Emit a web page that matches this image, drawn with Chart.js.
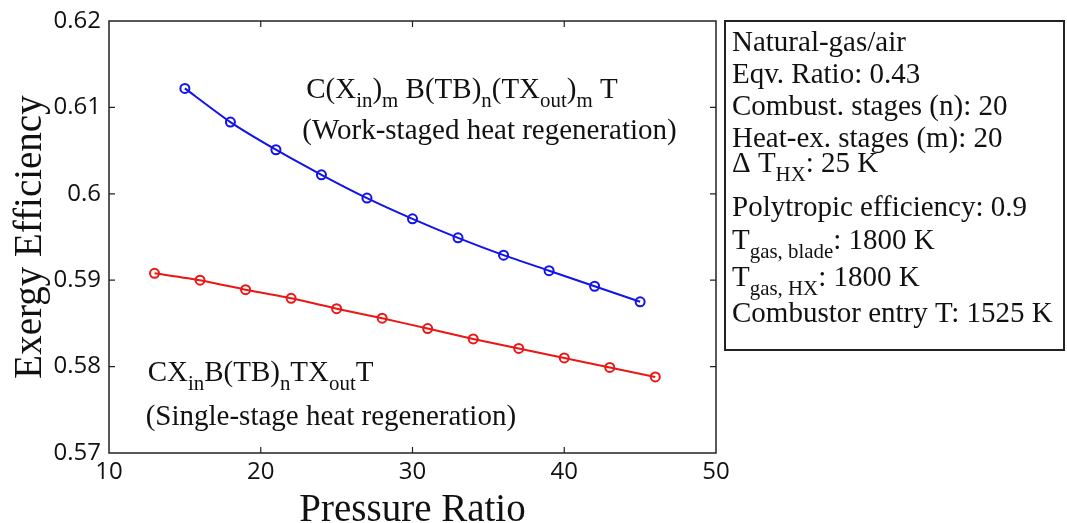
<!DOCTYPE html>
<html>
<head>
<meta charset="utf-8">
<title>Exergy Efficiency vs Pressure Ratio</title>
<script src="https://cdn.jsdelivr.net/npm/chart.js@4.4.0/dist/chart.umd.min.js"></script>
<style>
  html, body { margin: 0; padding: 0; background: #fff; }
  #my-chart { display: block; }
</style>
</head>
<body>
<canvas id="my-chart" width="1067" height="523"></canvas>
<script>
'use strict';

// ******** DATA **************
let workStagedRatio = [15, 18, 21, 24, 27, 30, 33, 36, 39, 42, 45];
let workStagedEff = [0.6122, 0.6083, 0.6051, 0.6022, 0.5995, 0.5971, 0.5949, 0.5929, 0.5911, 0.5893, 0.5875];

let singleStageRatio = [13, 16, 19, 22, 25, 28, 31, 34, 37, 40, 43, 46];
let singleStageEff = [0.5908, 0.5900, 0.5889, 0.5879, 0.5867, 0.5856, 0.5844, 0.5832, 0.5821, 0.5810, 0.5799, 0.5788];

let xTicks = [10, 20, 30, 40, 50];
let yTicks = [0.57, 0.58, 0.59, 0.6, 0.61, 0.62];

// text lines for the parameter box, each a list of [text, isSubscript]
let boxLines = [
  [['Natural-gas/air', false]],
  [['Eqv. Ratio: 0.43', false]],
  [['Combust. stages (n): 20', false]],
  [['Heat-ex. stages (m): 20', false]],
  [['\u0394 T', false], ['HX', true], [': 25 K', false]],
  [['Polytropic efficiency: 0.9', false]],
  [['T', false], ['gas, blade', true], [': 1800 K', false]],
  [['T', false], ['gas, HX', true], [': 1800 K', false]],
  [['Combustor entry T: 1525 K', false]]
];

let workStagedLabel = [
  [['C(X', false], ['in', true], [')', false], ['m', true], [' B(TB)', false], ['n', true],
   ['(TX', false], ['out', true], [')', false], ['m', true], [' T', false]],
  [['(Work-staged heat regeneration)', false]]
];

let singleStageLabel = [
  [['CX', false], ['in', true], ['B(TB)', false], ['n', true], ['TX', false], ['out', true], ['T', false]],
  [['(Single-stage heat regeneration)', false]]
];

function toPoints(xs, ys) {
  let pts = [];
  for (let i = 0; i < xs.length; i++) {
    pts.push({ x: xs[i], y: ys[i] });
  }
  return pts;
}

// ******** HELPERS **************
const SERIF = '"Liberation Serif", "Times New Roman", serif';

// draws one line made of normal and subscript pieces
function drawRichLine(ctx, x, y, parts, size) {
  ctx.textAlign = 'left';
  ctx.textBaseline = 'alphabetic';
  let cx = x;
  for (let i = 0; i < parts.length; i++) {
    let txt = parts[i][0];
    let isSub = parts[i][1];
    let s = isSub ? size * 0.72 : size;
    ctx.font = s + 'px ' + SERIF;
    ctx.fillText(txt, cx, isSub ? y + size * 0.3 : y);
    cx += ctx.measureText(txt).width;
  }
}

// ******** PLUGINS **************
let framePlugin = {
  id: 'frame',
  beforeDatasetsDraw(chart) {
    let ctx = chart.ctx;
    let a = chart.chartArea;
    let xs = chart.scales.x;
    let ys = chart.scales.y;
    ctx.save();
    ctx.strokeStyle = '#222';
    ctx.lineWidth = 1.5;
    ctx.strokeRect(a.left, a.top, a.right - a.left, a.bottom - a.top);

    // inward tick marks on all four sides
    ctx.lineWidth = 1.2;
    ctx.beginPath();
    xTicks.forEach(function (v) {
      let px = xs.getPixelForValue(v);
      if (px <= a.left + 1 || px >= a.right - 1) return;
      ctx.moveTo(px, a.bottom); ctx.lineTo(px, a.bottom - 6);
      ctx.moveTo(px, a.top); ctx.lineTo(px, a.top + 6);
    });
    yTicks.forEach(function (v) {
      let py = ys.getPixelForValue(v);
      if (py <= a.top + 1 || py >= a.bottom - 1) return;
      ctx.moveTo(a.left, py); ctx.lineTo(a.left + 6, py);
      ctx.moveTo(a.right, py); ctx.lineTo(a.right - 6, py);
    });
    ctx.stroke();
    ctx.restore();
  },
  afterDraw(chart) {
    let ctx = chart.ctx;
    let xs = chart.scales.x;
    let ys = chart.scales.y;
    ctx.save();
    ctx.fillStyle = '#111';

    // curve labels anchored in data space
    let ux = xs.getPixelForValue(23.0);
    let uy = ys.getPixelForValue(0.6111);
    drawRichLine(ctx, ux, uy, workStagedLabel[0], 29);
    drawRichLine(ctx, ux - 4, uy + 41, workStagedLabel[1], 29);

    let lx = xs.getPixelForValue(12.55);
    let ly = ys.getPixelForValue(0.5783);
    drawRichLine(ctx, lx, ly, singleStageLabel[0], 29);
    drawRichLine(ctx, lx - 2, ly + 44, singleStageLabel[1], 29);

    // parameter box to the right of the plot
    ctx.strokeStyle = '#222';
    ctx.lineWidth = 2;
    ctx.strokeRect(725, 21, 339, 329);
    let baselines = [51, 83, 115, 147, 172, 216, 249, 286, 322];
    for (let i = 0; i < boxLines.length; i++) {
      drawRichLine(ctx, 732, baselines[i], boxLines[i], 29);
    }
    ctx.restore();
  }
};

// ************** CHART ************************
let canvasElem = document.getElementById('my-chart');

let tickFont = { family: '"Open Sans", "DejaVu Sans", sans-serif', size: 24 };

let config = {
  type: 'line',
  data: {
    datasets: [{
      label: 'Work-staged heat regeneration',
      data: toPoints(workStagedRatio, workStagedEff),
      borderColor: 'rgb(18, 18, 235)',
      backgroundColor: 'rgba(0, 0, 0, 0)',
      borderWidth: 2,
      pointRadius: 4.5,
      pointBorderWidth: 2,
      pointBorderColor: 'rgb(18, 18, 235)',
      pointBackgroundColor: 'rgba(0, 0, 0, 0)',
      tension: 0.2
    },
    {
      label: 'Single-stage heat regeneration',
      data: toPoints(singleStageRatio, singleStageEff),
      borderColor: 'rgb(235, 22, 22)',
      backgroundColor: 'rgba(0, 0, 0, 0)',
      borderWidth: 2,
      pointRadius: 4.5,
      pointBorderWidth: 2,
      pointBorderColor: 'rgb(235, 22, 22)',
      pointBackgroundColor: 'rgba(0, 0, 0, 0)',
      tension: 0.2
    }]
  },
  options: {
    responsive: false,
    animation: false,
    layout: {
      padding: { top: 21, right: 351, left: 0, bottom: 0 }
    },
    plugins: {
      legend: { display: false },
      tooltip: { enabled: false }
    },
    scales: {
      x: {
        type: 'linear',
        min: 10,
        max: 50,
        grid: { display: false },
        border: { display: false },
        afterBuildTicks: function (scale) {
          scale.ticks = xTicks.map(function (v) { return { value: v }; });
        },
        afterFit: function (scale) { scale.height = 70; },
        ticks: {
          color: '#111',
          font: tickFont,
          padding: -3,
          maxRotation: 0,
          callback: function (v) { return String(v); }
        },
        title: {
          display: true,
          text: 'Pressure Ratio',
          color: '#111',
          font: { family: SERIF, size: 39, lineHeight: 0.62 },
          padding: 0
        }
      },
      y: {
        type: 'linear',
        min: 0.57,
        max: 0.62,
        grid: { display: false },
        border: { display: false },
        afterBuildTicks: function (scale) {
          scale.ticks = yTicks.map(function (v) { return { value: v }; });
        },
        afterFit: function (scale) { scale.width = 109; },
        ticks: {
          color: '#111',
          font: tickFont,
          padding: 0,
          callback: function (v) { return String(Number(v.toFixed(2))); }
        },
        title: {
          display: true,
          text: 'Exergy Efficiency',
          color: '#111',
          font: { family: SERIF, size: 39, lineHeight: 1.2 },
          padding: { top: 7, bottom: 0 }
        }
      }
    }
  },
  plugins: [framePlugin]
};

new Chart(canvasElem, config);
</script>
</body>
</html>
